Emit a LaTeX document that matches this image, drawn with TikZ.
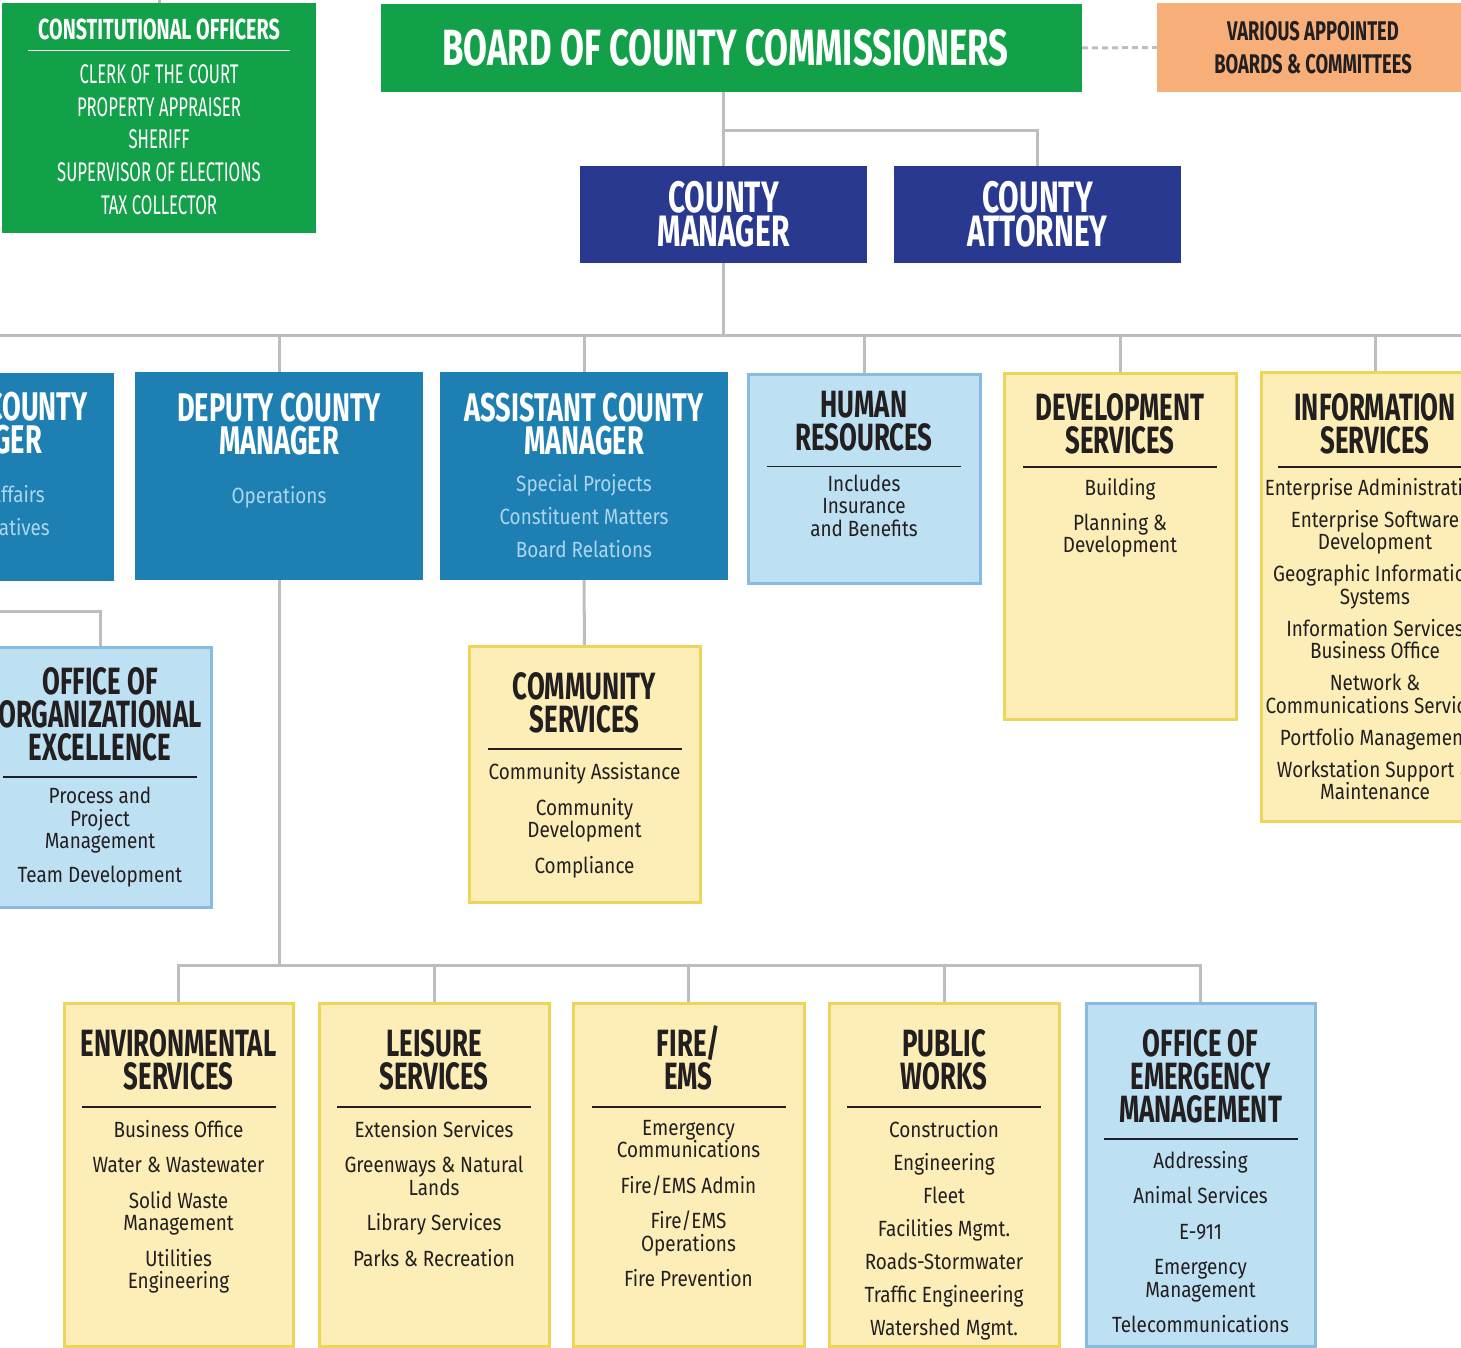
\documentclass[tikz,border=0pt]{standalone}
\usepackage{fontspec}
\setmainfont{Fira Sans}
\newfontfamily\headfont[FakeStretch=0.68]{Fira Sans}
\newfontfamily\bodyfont[FakeStretch=0.86]{Fira Sans}
\newfontfamily\capsfont[FakeStretch=0.62]{Fira Sans}
\usetikzlibrary{positioning}
\pgfdeclarelayer{bg}
\pgfsetlayers{bg,main}

\definecolor{boardgreen}{RGB}{18,160,73}
\definecolor{navy}{RGB}{41,57,143}
\definecolor{deptblue}{RGB}{29,127,178}
\definecolor{paleblue}{RGB}{190,224,243}
\definecolor{paleedge}{RGB}{137,186,224}
\definecolor{cream}{RGB}{252,238,182}
\definecolor{creamedge}{RGB}{238,212,88}
\definecolor{peach}{RGB}{248,174,120}
\definecolor{linkgray}{RGB}{188,189,192}
\definecolor{ink}{RGB}{35,31,32}
\definecolor{softblue}{RGB}{172,214,240}

\begin{document}
\begin{tikzpicture}[x=1pt, y=-1pt,
  link/.style={draw=linkgray, line width=3pt},
  box/.style={anchor=north west, inner sep=0pt, outer sep=0pt, line width=3pt},
  ybox/.style={box, draw=creamedge, fill=cream},
  lbox/.style={box, draw=paleedge, fill=paleblue},
  dbox/.style={box, fill=deptblue},
  nbox/.style={box, fill=navy, minimum width=287pt, minimum height=97pt},
  ttl/.style={align=center, inner sep=0pt, text=ink,
    font=\headfont\bfseries\fontsize{38}{33}\selectfont},
  wttl/.style={ttl, text=white, font=\headfont\bfseries\fontsize{40}{33}\selectfont},
  itm/.style={align=center, inner sep=0pt, text=ink,
    font=\bodyfont\fontsize{22}{22.5}\selectfont},
  bitm/.style={itm, text=softblue},
  rule/.style={draw=ink, line width=1.5pt},
]
\useasboundingbox (0,0) rectangle (1461,1347);
\clip (0,0) rectangle (1461,1347);

% Top row
\node[box, fill=boardgreen, minimum width=314pt, minimum height=230pt] (co) at (2,3) {};
\node[below=16pt of co.north, inner sep=0pt, text=white,
  font=\headfont\bfseries\fontsize{29}{30}\selectfont] (coT) {CONSTITUTIONAL OFFICERS};
\draw[rule, draw=white] ([shift={(-131pt,-10pt)}]coT.south) -- ++(262pt,0);
\node[below=24pt of coT, align=center, inner sep=0pt, text=white,
  font=\capsfont\fontsize{27}{32.6}\selectfont] (coL)
  {CLERK OF THE COURT\\PROPERTY APPRAISER\\SHERIFF\\SUPERVISOR OF ELECTIONS\\TAX COLLECTOR};

\node[box, fill=boardgreen, minimum width=701pt, minimum height=88pt] (board) at (381,4) {};
\node[text=white, inner sep=0pt, font=\headfont\bfseries\fontsize{51}{51}\selectfont]
  (boardT) at ([xshift=-6pt]board.center) {BOARD OF COUNTY COMMISSIONERS};

\node[box, fill=peach, minimum width=312pt, minimum height=89pt] (vab) at (1157,3) {};
\node[align=center, inner sep=0pt, text=ink, font=\headfont\bfseries\fontsize{27}{33}\selectfont]
  (vabT) at (vab) {VARIOUS APPOINTED\\BOARDS \& COMMITTEES};

% Manager and attorney
\node[nbox] (mgr) at (580,166) {};
\node[wttl, font=\headfont\bfseries\fontsize{44}{34}\selectfont] (mgrT) at (mgr) {COUNTY\\MANAGER};
\node[nbox] (atty) at (894,166) {};
\node[wttl, font=\headfont\bfseries\fontsize{44}{34}\selectfont] (attyT) at (atty) {COUNTY\\ATTORNEY};

% Second row
\node[dbox, minimum width=288pt, minimum height=208pt] (lft) at (-174,373) {};
\node[wttl, anchor=east] (lftT1) at (88,407) {COUNTY};
\node[wttl, anchor=east] (lftT2) at (42,440) {MANAGER};
\node[bitm, anchor=east] (lftL1) at (45,494) {Affairs};
\node[bitm, anchor=east] (lftL2) at (50,527) {atives};

\node[dbox, minimum width=288pt, minimum height=208pt] (dcm) at (135,372) {};
\node[wttl, below=21pt of dcm.north] (dcmT) {DEPUTY COUNTY\\MANAGER};
\node[bitm, below=31pt of dcmT] (dcmL) {Operations};

\node[dbox, minimum width=288pt, minimum height=208pt] (acm) at (440,372) {};
\node[wttl, below=21pt of acm.north] (acmT) {ASSISTANT COUNTY\\MANAGER};
\node[bitm, below=19pt of acmT] (acmL) {Special Projects\\[10.5pt]Constituent Matters\\[10.5pt]Board Relations};

\node[lbox, minimum width=232pt, minimum height=209pt] (hr) at (748,374) {};
\node[ttl, below=17pt of hr.north] (hrT) {HUMAN\\RESOURCES};
\draw[rule] ([shift={(-97pt,-15pt)}]hrT.south) -- ++(194pt,0);
\node[itm, below=23pt of hrT] (hrL) {Includes\\Insurance\\and Benefits};

\node[ybox, minimum width=232pt, minimum height=346pt] (dev) at (1004,373) {};
\node[ttl, below=20pt of dev.north] (devT) {DEVELOPMENT\\SERVICES};
\draw[rule] ([shift={(-97pt,-13pt)}]devT.south) -- ++(194pt,0);
\node[itm, below=24pt of devT] (devL) {Building\\[12.5pt]Planning \&\\Development};

\node[ybox, minimum width=228pt, minimum height=449pt] (is) at (1261,372) {};
\node[ttl, below=21pt of is.north] (isT) {INFORMATION\\SERVICES};
\draw[rule] ([shift={(-97pt,-13pt)}]isT.south) -- ++(194pt,0);
\node[itm, below=24pt of isT] (isL) {Enterprise Administration\\[9.5pt]Enterprise Software\\Development\\[9.5pt]%
  Geographic Information\\Systems\\[9.5pt]Information Services\\Business Office\\[9.5pt]%
  Network \&\\Communications Services\\[9.5pt]Portfolio Management\\[9.5pt]Workstation Support \&\\Maintenance};

% Third row
\node[lbox, minimum width=222pt, minimum height=260pt] (ooe) at (-11,647) {};
\node[ttl, below=20pt of ooe.north] (ooeT) {OFFICE OF\\ORGANIZATIONAL\\EXCELLENCE};
\draw[rule] ([shift={(-97pt,-16pt)}]ooeT.south) -- ++(194pt,0);
\node[itm, below=26pt of ooeT] (ooeL) {Process and\\Project\\Management\\[11.5pt]Team Development};

\node[ybox, minimum width=231pt, minimum height=256pt] (cs) at (469,646) {};
\node[ttl, below=26pt of cs.north] (csT) {COMMUNITY\\SERVICES};
\draw[rule] ([shift={(-97pt,-16pt)}]csT.south) -- ++(194pt,0);
\node[itm, below=29pt of csT] (csL) {Community Assistance\\[13.5pt]Community\\Development\\[13.5pt]Compliance};

% Bottom row
\node[ybox, minimum width=229pt, minimum height=343pt] (env) at (64,1003) {};
\node[ttl, below=26pt of env.north] (envT) {ENVIRONMENTAL\\SERVICES};
\draw[rule] ([shift={(-97pt,-17pt)}]envT.south) -- ++(194pt,0);
\node[itm, below=30pt of envT] (envL) {Business Office\\[13pt]Water \& Wastewater\\[13pt]%
  Solid Waste\\Management\\[13pt]Utilities\\Engineering};

\node[ybox, minimum width=230pt, minimum height=343pt] (lei) at (319,1003) {};
\node[ttl, below=26pt of lei.north] (leiT) {LEISURE\\SERVICES};
\draw[rule] ([shift={(-97pt,-17pt)}]leiT.south) -- ++(194pt,0);
\node[itm, below=30pt of leiT] (leiL) {Extension Services\\[13pt]Greenways \& Natural\\Lands\\[13pt]%
  Library Services\\[13pt]Parks \& Recreation};

\node[ybox, minimum width=231pt, minimum height=343pt] (fire) at (573,1003) {};
\node[ttl, below=22pt of fire.north] (fireT) {FIRE/\\EMS};
\draw[rule] ([shift={(-97pt,-17pt)}]fireT.south) -- ++(194pt,0);
\node[itm, below=30pt of fireT] (fireL) {Emergency\\Communications\\[13pt]Fire/EMS Admin\\[13pt]%
  Fire/EMS\\Operations\\[13pt]Fire Prevention};

\node[ybox, minimum width=230pt, minimum height=343pt] (pw) at (829,1003) {};
\node[ttl, below=26pt of pw.north] (pwT) {PUBLIC\\WORKS};
\draw[rule] ([shift={(-97pt,-17pt)}]pwT.south) -- ++(194pt,0);
\node[itm, below=30pt of pwT] (pwL) {Construction\\[10.5pt]Engineering\\[10.5pt]Fleet\\[10.5pt]%
  Facilities Mgmt.\\[10.5pt]Roads-Stormwater\\[10.5pt]Traffic Engineering\\[10.5pt]Watershed Mgmt.};

\node[lbox, minimum width=229pt, minimum height=343pt] (oem) at (1086,1003) {};
\node[ttl, below=26pt of oem.north] (oemT) {OFFICE OF\\EMERGENCY\\MANAGEMENT};
\draw[rule] ([shift={(-97pt,-16pt)}]oemT.south) -- ++(194pt,0);
\node[itm, below=28pt of oemT] (oemL) {Addressing\\[13pt]Animal Services\\[13pt]E-911\\[13pt]%
  Emergency\\Management\\[13pt]Telecommunications};

% Connectors
\coordinate (coTop) at (159,0);
\coordinate (split) at (724,130);
\coordinate (busL) at (0,335);
\coordinate (busR) at (1461,335);
\coordinate (bus2) at (279,965);
\begin{pgfonlayer}{bg}
  \draw[link] (coTop) -- (co.north);
  \draw[link, dash pattern=on 6pt off 4pt] (board.east) -- (vab.west);
  \draw[link] (board.south -| mgr.north) -- (mgr.north);
  \draw[link] (split) -| (atty.north);
  \draw[link] (mgr.south) -- (mgr.south |- busL);
  \draw[link] (busL) -- (busR);
  \foreach \n in {lft,dcm,acm,hr,dev,is}
    \draw[link] (\n.north |- busL) -- (\n.north);
  \draw[link] (lft.south) -- ++(0,30) -| (ooe.north);
  \draw[link] (acm.south) -- (cs.north);
  \draw[link] (dcm.south) -- (bus2);
  \foreach \n in {env,lei,fire,pw,oem}
    \draw[link] (bus2) -| (\n.north);
\end{pgfonlayer}
\end{tikzpicture}
\end{document}
